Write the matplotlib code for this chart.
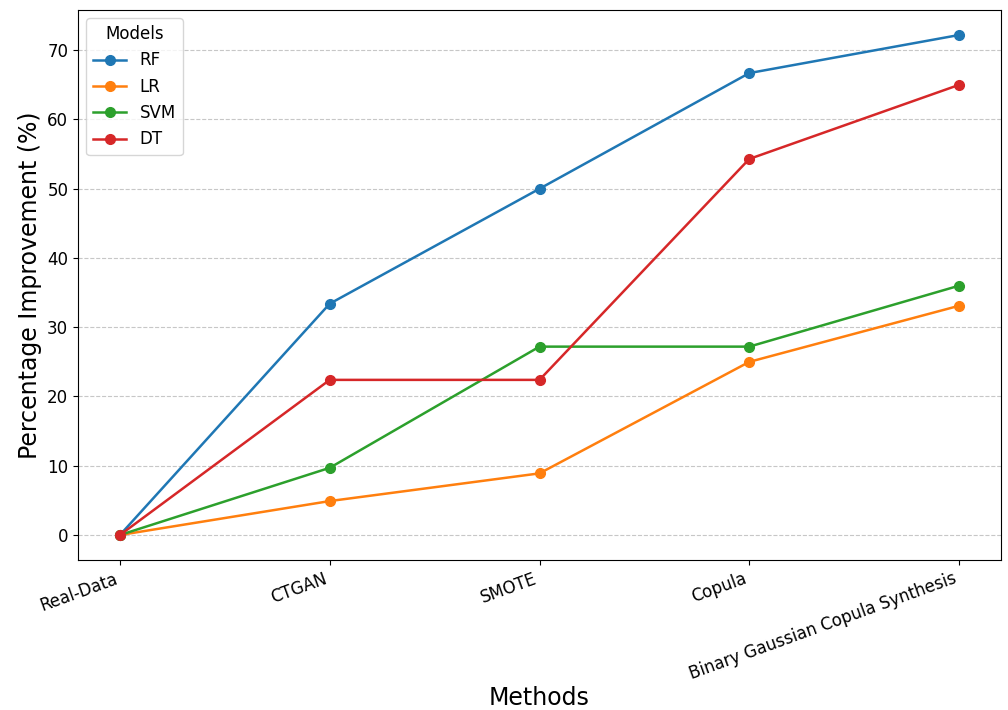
import matplotlib
matplotlib.use("Agg")
import matplotlib.pyplot as plt

methods = ["Real-Data", "CTGAN", "SMOTE", "Copula", "Binary Gaussian Copula Synthesis"]
rf = [0, 33.4, 50.0, 66.7, 72.2]
lr = [0, 4.9, 8.9, 25.0, 33.1]
svm = [0, 9.7, 27.2, 27.2, 36.0]
dt = [0, 22.4, 22.4, 54.3, 65.0]
series = {"RF": rf, "LR": lr, "SVM": svm, "DT": dt}

fig = plt.figure(figsize=(10.08, 7.10), dpi=100)
ax = fig.add_axes([78/1008, 1 - 560/710, (1001-78)/1008, (560-10)/710])

x = list(range(len(methods)))
for name, vals in series.items():
    ax.plot(x, vals, marker="o", linewidth=1.8, markersize=7, label=name)

ax.set_xticks(x)
ax.set_xticklabels(methods, rotation=20, ha="right", fontsize=12)
ax.tick_params(axis="y", labelsize=12)
ax.set_ylabel("Percentage Improvement (%)", fontsize=17)
ax.set_xlabel("Methods", fontsize=17, labelpad=2)
ax.grid(axis="y", linestyle="--", alpha=0.7)
ax.legend(title="Models", loc="upper left", fontsize=12, title_fontsize=12)

fig.savefig("out.png", dpi=100)
